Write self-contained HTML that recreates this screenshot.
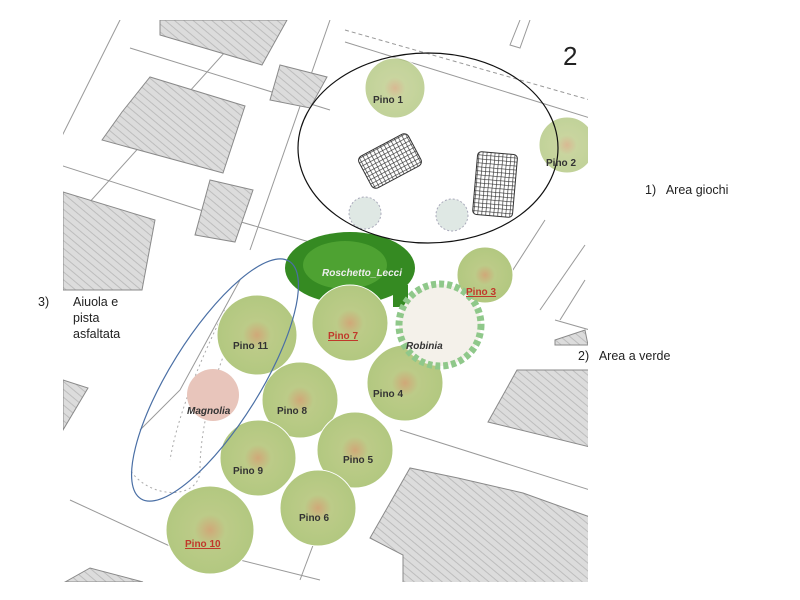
<!DOCTYPE html>
<html><head><meta charset="utf-8"><style>
html,body{margin:0;padding:0;background:#fff;width:800px;height:600px;overflow:hidden}
svg{position:absolute;left:0;top:0}
.t{font-family:"Liberation Sans",sans-serif;font-weight:bold;font-size:10px;fill:#333}
.r{fill:#c0392b;text-decoration:underline}
.l{font-family:"Liberation Sans",sans-serif;font-size:12.5px;fill:#222}
</style></head><body>
<svg width="800" height="600" viewBox="0 0 800 600">
<defs>
<pattern id="h" width="6" height="6" patternUnits="userSpaceOnUse" patternTransform="rotate(-50)">
<rect width="6" height="6" fill="#dcdcdc"/><line x1="0" y1="0" x2="0" y2="6" stroke="#bdbdbd" stroke-width="2"/></pattern>
<pattern id="g" width="4" height="4" patternUnits="userSpaceOnUse">
<rect width="4" height="4" fill="#fff"/><path d="M0 0H4M0 0V4" stroke="#333" stroke-width="1.3"/></pattern>
<radialGradient id="tr"><stop offset="0" stop-color="#d0a878"/><stop offset="0.35" stop-color="#bccb88"/><stop offset="1" stop-color="#b2c880"/></radialGradient>
<clipPath id="mc"><rect x="63" y="20" width="525" height="562"/></clipPath>
</defs>
<g clip-path="url(#mc)">
<g stroke="#999" stroke-width="1" fill="none">
<path d="M60 140 L130 0"/><path d="M60 235 L290 -20"/><path d="M130 48 L330 110"/><path d="M60 165 L200 210"/>
<path d="M200 210 L330 248"/><path d="M345 30 L590 100" stroke-dasharray="4 3"/><path d="M345 42 L590 118"/>
<path d="M330 20 L250 250"/><path d="M240 280 L180 390 L140 430"/><path d="M70 500 L200 560"/>
<path d="M545 220 L500 290"/><path d="M585 245 L540 310"/><path d="M585 280 L560 320"/>
<path d="M400 430 L590 490"/><path d="M555 320 L590 330"/><path d="M330 500 L300 580"/><path d="M240 560 L320 580"/>
<path d="M520 20 L510 45 L520 48 L530 20"/>
</g>
<g stroke="#8a8a8a" stroke-width="1" fill="url(#h)">
<polygon points="160,20 287,20 262,65 160,35"/>
<polygon points="102,140 122,112 150,77 245,106 223,173 102,140"/>
<polygon points="63,192 155,220 142,290 63,290"/>
<polygon points="280,65 327,77 310,108 270,100"/>
<polygon points="210,180 253,190 235,242 195,235"/>
<polygon points="488,422 517,370 590,370 590,447"/>
<polygon points="370,538 410,468 458,478 523,493 590,517 590,590 403,590 403,555"/>
<polygon points="63,380 88,388 63,430"/>
<polygon points="65,582 90,568 143,582"/>
<polygon points="555,340 585,330 588,345 555,345"/>
</g>
<path d="M250 300 C220 350 200 420 200 470 C200 500 150 500 130 470 M225 310 C190 380 175 430 170 460" stroke="#aaa" stroke-dasharray="2 3" fill="none"/>
<ellipse cx="350" cy="268" rx="65" ry="36" fill="#358a22"/>
<ellipse cx="345" cy="265" rx="42" ry="24" fill="#4ea232"/>
<rect x="393" y="285" width="15" height="22" fill="#358a22"/>
<g fill="url(#tr)" stroke="#fff" stroke-width="1">
<circle cx="395" cy="88" r="30" opacity=".8"/>
<circle cx="567" cy="145" r="28" opacity=".8"/>
<circle cx="485" cy="275" r="28"/>
<circle cx="350" cy="323" r="38"/>
<circle cx="257" cy="335" r="40"/>
<circle cx="405" cy="383" r="38"/>
<circle cx="300" cy="400" r="38"/>
<circle cx="258" cy="458" r="38"/>
<circle cx="355" cy="450" r="38"/>
<circle cx="318" cy="508" r="38"/>
<circle cx="210" cy="530" r="44"/>
</g>
<circle cx="440" cy="325" r="41" fill="#f4f1ea" stroke="#8fc88a" stroke-width="7" stroke-dasharray="5 3"/>
<circle cx="213" cy="395" r="26" fill="#e8c5bb"/>
<circle cx="365" cy="213" r="16" fill="#dfe8e4" stroke="#aab" stroke-dasharray="2 2"/>
<circle cx="452" cy="215" r="16" fill="#dfe8e4" stroke="#aab" stroke-dasharray="2 2"/>
<rect x="362" y="143" width="56" height="36" rx="5" fill="url(#g)" stroke="#333" transform="rotate(-28 390 161)"/>
<rect x="475" y="153" width="40" height="63" rx="4" fill="url(#g)" stroke="#333" transform="rotate(5 495 185)"/>
<ellipse cx="428" cy="148" rx="130" ry="95" fill="none" stroke="#111" stroke-width="1.2"/>
<ellipse cx="215" cy="380" rx="140" ry="45" fill="none" stroke="#4a6fa5" stroke-width="1.2" transform="rotate(-58 215 380)"/>
<text class="t" x="373" y="103">Pino 1</text>
<text class="t" x="546" y="166">Pino 2</text>
<text class="t r" x="466" y="295">Pino 3</text>
<text class="t r" x="328" y="339">Pino 7</text>
<text class="t" x="233" y="349">Pino 11</text>
<text class="t" x="406" y="349" font-style="italic">Robinia</text>
<text class="t" x="373" y="397">Pino 4</text>
<text class="t" x="187" y="414" font-style="italic">Magnolia</text>
<text class="t" x="277" y="414">Pino 8</text>
<text class="t" x="233" y="474">Pino 9</text>
<text class="t" x="343" y="463">Pino 5</text>
<text class="t" x="299" y="521">Pino 6</text>
<text class="t r" x="185" y="547">Pino 10</text>
<text class="t" x="322" y="276" font-style="italic" style="fill:#eee">Roschetto_Lecci</text>
</g>
<text x="563" y="65" font-family="Liberation Sans,sans-serif" font-size="26" fill="#222">2</text>
<text class="l" x="645" y="194">1)&#160;&#160; Area giochi</text>
<text class="l" x="578" y="360">2)&#160;&#160; Area a verde</text>
<text class="l" x="38" y="306">3)</text>
<text class="l" x="73" y="306">Aiuola e</text>
<text class="l" x="73" y="322">pista</text>
<text class="l" x="73" y="338">asfaltata</text>
</svg>
</body></html>
